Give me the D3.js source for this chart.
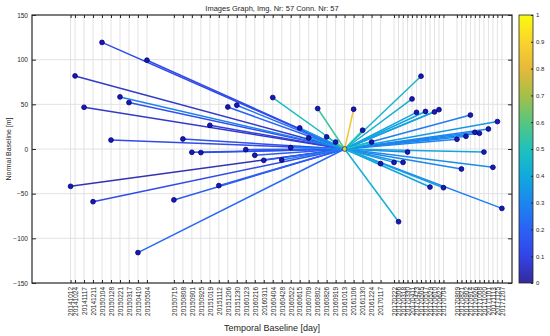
<!DOCTYPE html>
<html>
<head>
<meta charset="utf-8">
<script src="https://cdn.jsdelivr.net/npm/d3@7"></script>
<style>
  body { margin: 0; background: #fff; }
  text { font-family: "Liberation Sans", Arial, sans-serif; fill: #262626; }
</style>
</head>
<body>
<svg id="main-chart-svg" width="550" height="336"></svg>
<script>
// acquisition dates (yyyymmdd)
const dates = [
  "20141012", "20141024", "20141117", "20141211", "20150104", "20150128", "20150221",
  "20150317", "20150410", "20150504", "20150715", "20150808", "20150901", "20150925",
  "20151019", "20151112", "20151206", "20151230", "20160123", "20160216", "20160311",
  "20160404", "20160428", "20160522", "20160615", "20160709", "20160802", "20160826",
  "20160919", "20161013", "20161106", "20161130", "20161224", "20170117", "20170222",
  "20170306", "20170318", "20170330", "20170411", "20170423", "20170505", "20170517",
  "20170529", "20170610", "20170622", "20170704", "20170809", "20170821", "20170902",
  "20170914", "20170926", "20171008", "20171020", "20171101", "20171113", "20171125",
  "20171207"
];

// normal baseline [m] of each image
const baselines = [
  -41.8, 81.8, 46.7, -59, 119.3, 10, 58.3,
  52, -116, 99.4, -57, 11.2, -3.7, -4,
  26.5, -41, 47, 49, -0.7, -7, -12.7,
  57.6, -12.3, 1.6, 23.5, 12.3, 45.3, 13.5,
  7.8, 0, 44.5, 21, 7.8, -16.4, -15,
  -81.4, -15, -3.4, 56, 41, 81.5, 42,
  -42.6, 41.5, 44, -43.3, 10.9, -22.4, 14.2,
  38, 18.7, 17.6, -3.4, 22.4, -20.5, 30.7,
  -66.5
];

// coherence of the connection to the master image
const coherence = [
  0.03, 0.06, 0.06, 0.12, 0.12, 0.12, 0.28,
  0.14, 0.22, 0.12, 0.18, 0.14, 0.14, 0.14,
  0.08, 0.18, 0.2, 0.25, 0.18, 0.18, 0.18,
  0.48, 0.28, 0.3, 0.35, 0.35, 0.55, 0.5,
  0.6, 1, 0.85, 0.5, 0.5, 0.42, 0.35,
  0.42, 0.35, 0.3, 0.42, 0.38, 0.45, 0.38,
  0.38, 0.38, 0.38, 0.38, 0.3, 0.3, 0.3,
  0.28, 0.3, 0.3, 0.38, 0.3, 0.32, 0.35,
  0.28
];

const masterDate = "20161013";
const yTicks = [-150, -100, -50, 0, 50, 100, 150];
const colorbarTicks = [0, 0.1, 0.2, 0.3, 0.4, 0.5, 0.6, 0.7, 0.8, 0.9, 1];
const titleText = "Images Graph, Img. Nr: 57 Conn. Nr: 57";

// parula-like colormap
const cmapStops = [0, 0.1, 0.2, 0.3, 0.4, 0.5, 0.6, 0.7, 0.8, 0.9, 1];
const cmapColors = ["#332a9c", "#3344e6", "#2a62f6", "#1c86ee", "#10aadc", "#1ec2bc",
  "#58c67e", "#a5bf48", "#e6b93a", "#fad42c", "#f9fb0e"];

/** Class representing the baseline graph. */
class BaselineGraph {

    constructor() {
        this.parse = d3.timeParse("%Y%m%d");
        this.points = dates.map((d, i) => ({
            label: d,
            date: this.parse(d),
            bperp: baselines[i],
            coh: coherence[i]
        }));
        this.master = this.points.find(p => p.label === masterDate);
    }

    createChart()
    {
        let svg = d3.select("#main-chart-svg");
        let left = 32, right = 512, top = 15, bottom = 283;

        let xScale = d3.scaleTime()
        .domain([this.parse("20140701"), this.parse("20180103")])
        .range([left, right]);

        let yScale = d3.scaleLinear()
        .domain([-150, 150])
        .range([bottom, top]);

        let color = d3.scaleLinear()
        .domain(cmapStops)
        .range(cmapColors)
        .clamp(true);

        // grid
        svg.append("g")
        .selectAll("line")
        .data(this.points)
        .join("line")
        .attr("x1", d => xScale(d.date))
        .attr("x2", d => xScale(d.date))
        .attr("y1", top)
        .attr("y2", bottom)
        .attr("stroke", "#e2e2e2")
        .attr("stroke-width", 1);

        svg.append("g")
        .selectAll("line")
        .data(yTicks.slice(1, -1))
        .join("line")
        .attr("x1", left)
        .attr("x2", right)
        .attr("y1", d => yScale(d))
        .attr("y2", d => yScale(d))
        .attr("stroke", "#e2e2e2")
        .attr("stroke-width", 1);

        // connections to the master image, low coherence drawn first
        let links = this.points.filter(p => p !== this.master)
        .sort((a, b) => a.coh - b.coh);

        svg.append("g")
        .selectAll("line")
        .data(links)
        .join("line")
        .attr("x1", d => xScale(d.date))
        .attr("y1", d => yScale(d.bperp))
        .attr("x2", xScale(this.master.date))
        .attr("y2", yScale(this.master.bperp))
        .attr("stroke", d => color(d.coh))
        .attr("stroke-width", 1.5);

        svg.append("g")
        .selectAll("circle")
        .data(links)
        .join("circle")
        .attr("cx", d => xScale(d.date))
        .attr("cy", d => yScale(d.bperp))
        .attr("r", 2.4)
        .attr("fill", "#1818b4")
        .attr("stroke", "#000078")
        .attr("stroke-width", 0.8);

        svg.append("circle")
        .attr("cx", xScale(this.master.date))
        .attr("cy", yScale(this.master.bperp))
        .attr("r", 2.4)
        .attr("fill", "#d8d040")
        .attr("stroke", "#2a2aa0")
        .attr("stroke-width", 0.8);

        // axes box
        svg.append("rect")
        .attr("x", left)
        .attr("y", top)
        .attr("width", right - left)
        .attr("height", bottom - top)
        .attr("fill", "none")
        .attr("stroke", "#262626")
        .attr("stroke-width", 1.2);

        let xAxis = d3.axisBottom(xScale)
        .tickValues(this.points.map(p => p.date))
        .tickSize(-3)
        .tickFormat(d3.timeFormat("%Y%m%d"));

        let xg = svg.append("g")
        .attr("id", "xAxis")
        .attr("transform", `translate(0,${bottom})`)
        .call(xAxis);
        xg.select(".domain").remove();
        xg.selectAll("line").attr("stroke", "#262626");
        xg.selectAll("text")
        .attr("transform", "rotate(-90)")
        .attr("x", -4)
        .attr("y", 0)
        .attr("dy", "0.35em")
        .attr("text-anchor", "end")
        .attr("font-size", "6.5px")
        .attr("fill", "#3a3a3a");

        let xTop = d3.axisTop(xScale)
        .tickValues(this.points.map(p => p.date))
        .tickSize(-3)
        .tickFormat("");
        let xt = svg.append("g")
        .attr("transform", `translate(0,${top})`)
        .call(xTop);
        xt.select(".domain").remove();
        xt.selectAll("line").attr("stroke", "#262626");

        let yAxis = d3.axisLeft(yScale)
        .tickValues(yTicks)
        .tickSize(-4)
        .tickPadding(4);
        let yg = svg.append("g")
        .attr("id", "yAxis")
        .attr("transform", `translate(${left},0)`)
        .call(yAxis);
        yg.select(".domain").remove();
        yg.selectAll("line").attr("stroke", "#262626");
        yg.selectAll("text")
        .attr("font-size", "6.5px")
        .attr("fill", "#3a3a3a");

        let yRight = d3.axisRight(yScale)
        .tickValues(yTicks)
        .tickSize(-4)
        .tickFormat("");
        let yr = svg.append("g")
        .attr("transform", `translate(${right},0)`)
        .call(yRight);
        yr.select(".domain").remove();
        yr.selectAll("line").attr("stroke", "#262626");

        // labels
        svg.append("text")
        .attr("x", (left + right) / 2)
        .attr("y", 11)
        .attr("text-anchor", "middle")
        .attr("font-size", "7.5px")
        .attr("fill", "#3a3a3a")
        .text(titleText);

        svg.append("text")
        .attr("x", (left + right) / 2)
        .attr("y", 331)
        .attr("text-anchor", "middle")
        .attr("font-size", "9px")
        .attr("fill", "#3a3a3a")
        .text("Temporal Baseline [day]");

        svg.append("text")
        .attr("transform", `translate(11,${(top + bottom) / 2}) rotate(-90)`)
        .attr("text-anchor", "middle")
        .attr("font-size", "7px")
        .attr("fill", "#3a3a3a")
        .text("Normal Baseline [m]");

        // colorbar
        let cbX = 519, cbW = 14;
        let cScale = d3.scaleLinear().domain([0, 1]).range([bottom, top]);
        let grad = svg.append("defs").append("linearGradient")
        .attr("id", "cbGrad")
        .attr("x1", 0).attr("y1", 1).attr("x2", 0).attr("y2", 0);
        grad.selectAll("stop")
        .data(cmapStops)
        .join("stop")
        .attr("offset", d => d)
        .attr("stop-color", d => color(d));

        svg.append("rect")
        .attr("x", cbX)
        .attr("y", top)
        .attr("width", cbW)
        .attr("height", bottom - top)
        .attr("fill", "url(#cbGrad)")
        .attr("stroke", "#262626")
        .attr("stroke-width", 0.8);

        let cbAxis = d3.axisRight(cScale)
        .tickValues(colorbarTicks)
        .tickSize(-2)
        .tickPadding(3)
        .tickFormat(d3.format("~g"));
        let cg = svg.append("g")
        .attr("transform", `translate(${cbX + cbW},0)`)
        .call(cbAxis);
        cg.select(".domain").remove();
        cg.selectAll("line").attr("stroke", "#262626");
        cg.selectAll("text")
        .attr("font-size", "6px")
        .attr("fill", "#3a3a3a");
    }
}

let chart = new BaselineGraph();
chart.createChart();
</script>
</body>
</html>
